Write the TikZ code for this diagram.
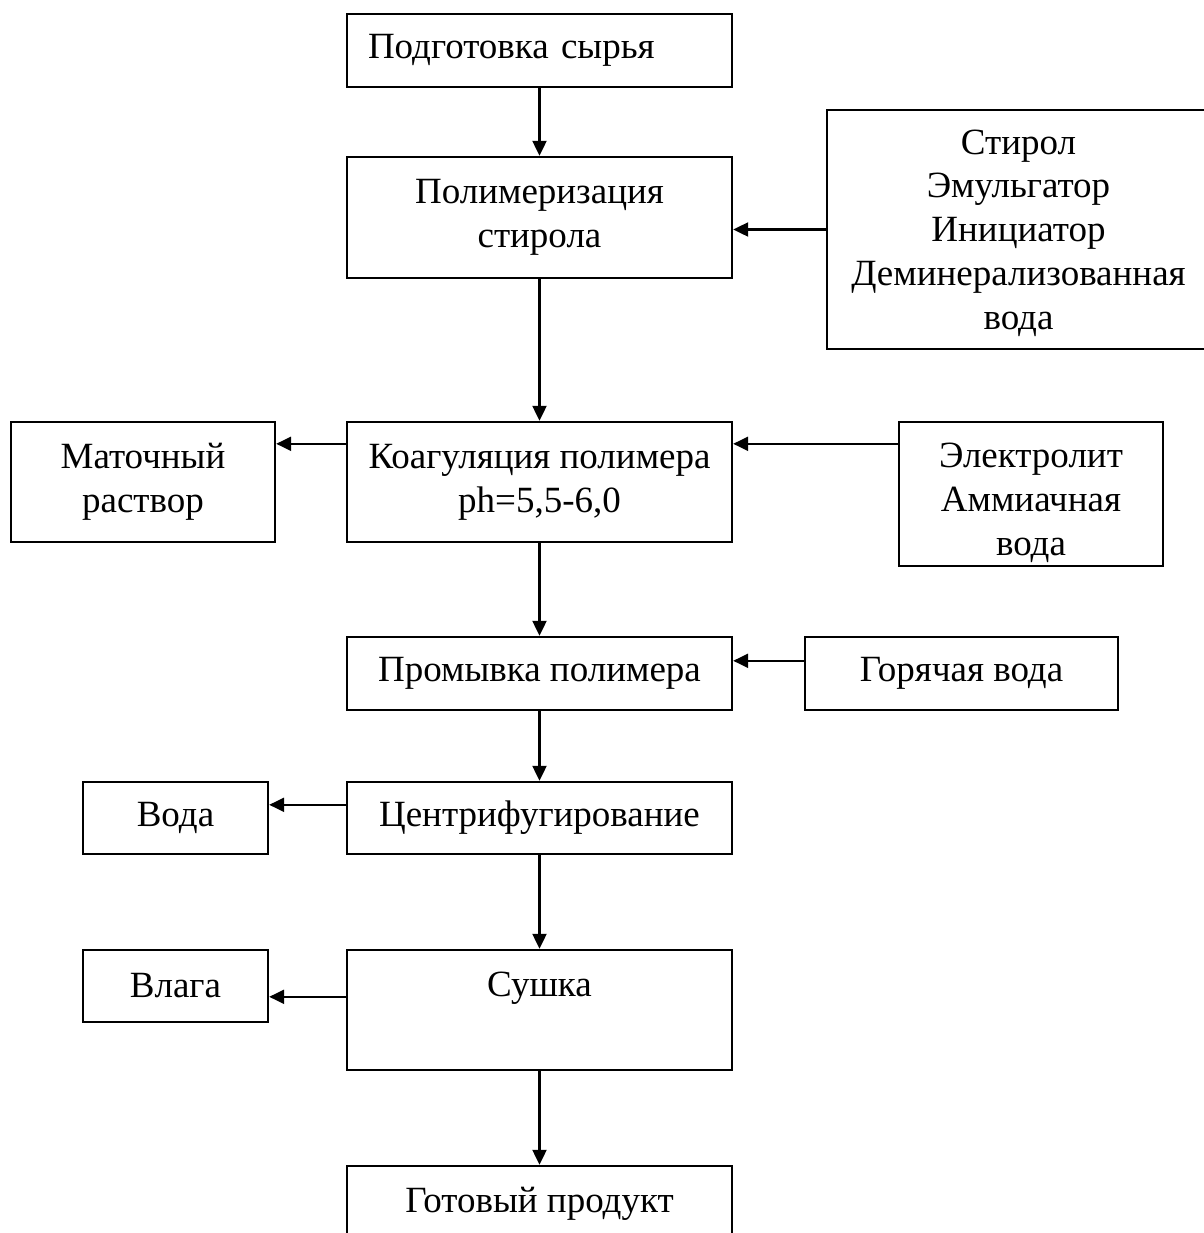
\documentclass[tikz,border=0pt]{standalone}
\usepackage{fontspec}
\setmainfont{Liberation Serif}
\usetikzlibrary{arrows.meta}
\begin{document}
\begin{tikzpicture}[x=0.5pt,y=-0.5pt,
  txt/.style={inner sep=0pt, align=center, font=\fontsize{18.5}{21.85}\selectfont},
  box/.style={draw, line width=1.2pt, txt},
  arr/.style={line width=1.1pt, -{Triangle[length=7.5pt,width=7pt]}}]
\useasboundingbox (0,0) rectangle (1204,1233);
\clip (0,0) rectangle (1204,1233);
\fill[white] (0,0) rectangle (1204,1233);
% main column
\node[box, minimum width=192.5pt, minimum height=36.5pt, text width=171.5pt, align=left] (A) at (539.5,50.5) {Подготовка сырья};
\node[box, minimum width=192.5pt, minimum height=60.5pt] (B) at (539.5,217.5) {Полимеризация\\стирола};
\node[box, minimum width=192.5pt, minimum height=60pt] (C) at (539.5,482) {Коагуляция полимера\\ph=5,5-6,0};
\node[box, minimum width=192.5pt, minimum height=36.5pt] (D) at (539.5,673.5) {Промывка полимера};
\node[box, minimum width=192.5pt, minimum height=36pt] (E) at (539.5,818) {Центрифугирование};
\node[box, minimum width=192.5pt, minimum height=60pt] (F) at (539.5,1010) {};
\node[txt, anchor=base] (Ft) at (539.5,996) {Сушка};
\node[box, minimum width=192.5pt, minimum height=40pt] (G) at (539.5,1206) {};
\node[txt, anchor=base] (Gt) at (539.5,1212) {Готовый продукт};
% right column
\node[box, minimum width=191.5pt, minimum height=119.5pt] (R1) at (1018.5,229.5) {};
\node[txt] (R1t) at (1018.5,233) {Стирол\\Эмульгатор\\Инициатор\\Деминерализованная\\вода};
\node[box, minimum width=132pt, minimum height=72pt] (R2) at (1031,494) {};
\node[txt] (R2t) at (1031,503) {Электролит\\Аммиачная\\вода};
\node[box, minimum width=156.5pt, minimum height=36.5pt] (R3) at (961.5,673.5) {Горячая вода};
% left column
\node[box, minimum width=132pt, minimum height=60pt] (L1) at (143,482) {Маточный\\раствор};
\node[box, minimum width=92.5pt, minimum height=36pt] (L2) at (175.5,818) {Вода};
\node[box, minimum width=92.5pt, minimum height=36pt] (L3) at (175.5,986) {Влага};
% vertical arrows
\draw[arr] (A) -- (B);
\draw[arr] (B) -- (C);
\draw[arr] (C) -- (D);
\draw[arr] (D) -- (E);
\draw[arr] (E) -- (F);
\draw[arr] (F) -- (G);
% horizontal arrows
\draw[arr] (R1.west) -- (R1.west -| B.east);
\coordinate (c1) at ([yshift=-11.5pt]C.north west);
\draw[arr] (c1) -- (c1 -| L1.east);
\coordinate (c2) at ([yshift=-11.5pt]R2.north west);
\draw[arr] (c2) -- (c2 -| C.east);
\coordinate (d1) at ([yshift=-12.5pt]R3.north west);
\draw[arr] (d1) -- (d1 -| D.east);
\coordinate (e1) at ([yshift=-12pt]E.north west);
\draw[arr] (e1) -- (e1 -| L2.east);
\coordinate (f1) at ([yshift=-24pt]F.north west);
\draw[arr] (f1) -- (f1 -| L3.east);
\end{tikzpicture}
\end{document}
